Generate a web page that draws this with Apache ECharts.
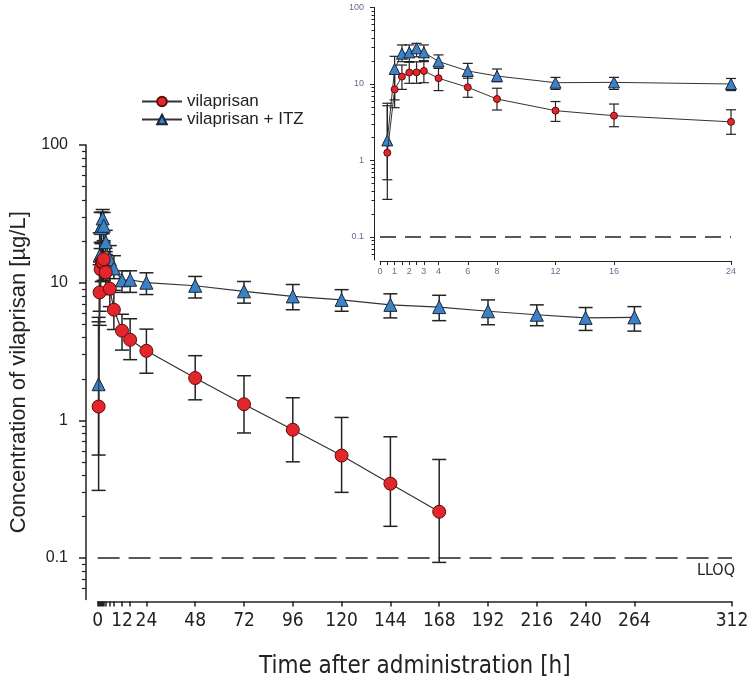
<!DOCTYPE html>
<html><head><meta charset="utf-8">
<script src="https://cdn.jsdelivr.net/npm/echarts@6/dist/echarts.min.js"></script>
<style>html,body{margin:0;padding:0;background:#fff}#c{width:750px;height:676px}</style>
</head><body><div id="c"></div>
<script>
// ---- data ----
const timesVila = [0.5,1,1.5,2,2.5,3,4,6,8,12,16,24,48,72,96,120,144,168];
const vilaMean  = [1.26,8.5,12.5,14.1,14.2,14.8,11.9,9.05,6.36,4.48,3.85,3.2,2.03,1.31,0.855,0.555,0.347,0.217];
const vilaLow   = [0.31,4.9,8.5,10.2,10.2,10.4,8.2,6.7,4.57,3.24,2.76,2.2,1.41,0.81,0.50,0.30,0.17,0.093];
const vilaHigh  = [5.2,13.5,17.7,19.2,19.5,20.2,16.0,12.7,8.8,5.9,5.47,4.6,2.95,2.11,1.46,1.05,0.76,0.52];

const timesItz = [0.5,1,1.5,2,2.5,3,4,6,8,12,16,24,48,72,96,120,144,168,192,216,240,264];
const itzMean  = [1.83,15.7,24.9,25.9,29.3,25.9,19.7,14.8,12.7,10.4,10.5,10.0,9.5,8.65,7.95,7.5,6.9,6.65,6.2,5.85,5.55,5.6];
const itzLow   = [0.56,6.2,19.6,19.6,22.7,19.6,16.8,11.9,10.7,8.5,8.5,8.2,7.74,7.1,6.36,6.2,5.55,5.3,4.95,4.87,4.5,4.45];
const itzHigh  = [5.6,23,32.4,32.4,34,32.4,24,18.6,15.7,12.2,12.2,11.8,11.1,10.2,9.7,8.9,8.3,8.1,7.5,6.9,6.6,6.7];

const mainXLabels = [0,12,24,48,72,96,120,144,168,192,216,240,264,312];
const mainXTicks  = [0,0.5,1,1.5,2,2.5,3,4,6,8,12,16,24,48,72,96,120,144,168,192,216,240,264,312];
const insetXLabels = [0,1,2,3,4,6,8,12,16,24];
const insetXTicks  = [0,0.5,1,1.5,2,2.5,3,4,6,8,12,16,24];
const yMajor = [0.1,1,10,100];
const yMinor = [0.06,0.07,0.08,0.09,0.2,0.3,0.4,0.5,0.6,0.7,0.8,0.9,2,3,4,5,6,7,8,9,20,30,40,50,60,70,80,90];
const lloq = 0.1;
const insetMaxT = 24;

// ---- styles ----
const RED = '#e3262b', RED_B = '#5e0b0b';
const BLUE = '#3c82c4', BLUE_B = '#15263d';
const INK = '#222';
const INSET_TXT = '#6a6a98';
const NARROW = '"Liberation Sans Narrow","Arial Narrow","DejaVu Sans Condensed",sans-serif';
const SANS = '"Liberation Sans",Arial,sans-serif';

function zip(ts, vs, maxT) {
  const out = [];
  ts.forEach((t, i) => { if (maxT === undefined || t <= maxT) out.push([t, vs[i]]); });
  return out;
}
function zip3(ts, lo, hi, maxT) {
  const out = [];
  ts.forEach((t, i) => { if (maxT === undefined || t <= maxT) out.push([t, lo[i], hi[i]]); });
  return out;
}
function errSeries(xi, yi, data, half, lw) {
  return {
    type: 'custom', xAxisIndex: xi, yAxisIndex: yi, silent: true, z: 1,
    data: data, encode: {x: 0, y: [1, 2]},
    renderItem(params, api) {
      const x = api.value(0);
      const lo = api.coord([x, api.value(1)]);
      const hi = api.coord([x, api.value(2)]);
      const st = {stroke: INK, lineWidth: lw};
      return {type: 'group', children: [
        {type: 'line', shape: {x1: lo[0], y1: lo[1], x2: hi[0], y2: hi[1]}, style: st},
        {type: 'line', shape: {x1: lo[0] - half, y1: lo[1], x2: lo[0] + half, y2: lo[1]}, style: st},
        {type: 'line', shape: {x1: hi[0] - half, y1: hi[1], x2: hi[0] + half, y2: hi[1]}, style: st}
      ]};
    }
  };
}
function lloqLine(dash, w) {
  return {symbol: 'none', silent: true, animation: false,
    data: [{yAxis: lloq}], label: {show: false},
    lineStyle: {type: dash, color: INK, width: w}, emphasis: {disabled: true}};
}

const chart = echarts.init(document.getElementById('c'), null, {renderer: 'canvas'});
const option = {
  animation: false,
  backgroundColor: '#fff',
  grid: [
    {left: 97.6, right: 18, top: 145, bottom: 76.5, outerBoundsMode: 'none'},
    {left: 380, right: 19, top: 7.5, bottom: 416, outerBoundsMode: 'none'}
  ],
  legend: {
    left: 136, top: 88, orient: 'vertical', itemWidth: 40, itemHeight: 12, itemGap: 1,
    data: ['vilaprisan', 'vilaprisan + ITZ'],
    textStyle: {fontFamily: SANS, fontSize: 17, color: INK}
  },
  xAxis: [
    {type: 'value', gridIndex: 0, position: 'bottom', min: 0, max: 312, offset: 2,
     name: 'Time after administration [h]', nameLocation: 'middle', nameGap: 53,
     nameTextStyle: {fontFamily: NARROW, fontSize: 24, color: INK},
     axisLine: {onZero: false, lineStyle: {color: INK, width: 1.5}},
     axisTick: {customValues: mainXTicks, length: 5, lineStyle: {color: INK, width: 1.5}},
     axisLabel: {customValues: mainXLabels, margin: 10, fontFamily: NARROW, fontSize: 19, color: INK},
     splitLine: {show: false}},
    {type: 'value', gridIndex: 1, position: 'bottom', min: 0, max: insetMaxT, offset: 1,
     axisLine: {onZero: false, lineStyle: {color: INK, width: 1}},
     axisTick: {customValues: insetXTicks, length: 4, lineStyle: {color: INK, width: 1}},
     axisLabel: {customValues: insetXLabels, margin: 6, fontFamily: SANS, fontSize: 9, color: INSET_TXT},
     splitLine: {show: false}}
  ],
  yAxis: [
    {type: 'log', logBase: 10, gridIndex: 0, position: 'left', min: 0.05, max: 100, offset: 11.6,
     name: 'Concentration of vilaprisan [µg/L]', nameLocation: 'middle', nameGap: 54,
     nameTextStyle: {fontFamily: SANS, fontSize: 22, color: INK},
     axisLine: {show: true, onZero: false, lineStyle: {color: INK, width: 1.5}},
     axisTick: {customValues: yMajor, length: 7, lineStyle: {color: INK, width: 1.5}},
     axisLabel: {customValues: yMajor, margin: 18, fontFamily: SANS, fontSize: 16, color: INK},
     splitLine: {show: false}},
    {type: 'log', logBase: 10, gridIndex: 0, position: 'left', min: 0.05, max: 100, offset: 11.6,
     axisLine: {show: false, onZero: false},
     axisTick: {customValues: yMinor, length: 4, lineStyle: {color: INK, width: 1.2}},
     axisLabel: {show: false}, splitLine: {show: false}},
    {type: 'log', logBase: 10, gridIndex: 1, position: 'left', min: 0.05, max: 100, offset: 6,
     axisLine: {show: true, onZero: false, lineStyle: {color: INK, width: 1}},
     axisTick: {customValues: yMajor, length: 4, lineStyle: {color: INK, width: 1}},
     axisLabel: {customValues: yMajor, margin: 10, fontFamily: SANS, fontSize: 9, color: INSET_TXT},
     splitLine: {show: false}},
    {type: 'log', logBase: 10, gridIndex: 1, position: 'left', min: 0.05, max: 100, offset: 6,
     axisLine: {show: false, onZero: false},
     axisTick: {customValues: yMinor, length: 2.5, lineStyle: {color: INK, width: 1}},
     axisLabel: {show: false}, splitLine: {show: false}}
  ],
  series: [
    // main panel
    errSeries(0, 0, zip3(timesItz, itzLow, itzHigh), 7, 1.5),
    errSeries(0, 0, zip3(timesVila, vilaLow, vilaHigh), 7, 1.5),
    {name: 'vilaprisan + ITZ', type: 'line', xAxisIndex: 0, yAxisIndex: 0, z: 3,
     data: zip(timesItz, itzMean), symbol: 'triangle', symbolSize: 13,
     lineStyle: {color: '#333', width: 1.2},
     itemStyle: {color: BLUE, borderColor: BLUE_B, borderWidth: 1}},
    {name: 'vilaprisan', type: 'line', xAxisIndex: 0, yAxisIndex: 0, z: 4,
     data: zip(timesVila, vilaMean), symbol: 'circle', symbolSize: 13,
     lineStyle: {color: '#333', width: 1.2},
     itemStyle: {color: RED, borderColor: RED_B, borderWidth: 1},
     markLine: lloqLine([22, 9], 1.5)},
    // inset panel
    errSeries(1, 2, zip3(timesItz, itzLow, itzHigh, insetMaxT), 5, 1.2),
    errSeries(1, 2, zip3(timesVila, vilaLow, vilaHigh, insetMaxT), 5, 1.2),
    {name: 'vilaprisan + ITZ', type: 'line', xAxisIndex: 1, yAxisIndex: 2, z: 3,
     data: zip(timesItz, itzMean, insetMaxT), symbol: 'triangle', symbolSize: 11,
     lineStyle: {color: '#333', width: 1},
     itemStyle: {color: BLUE, borderColor: BLUE_B, borderWidth: 1}},
    {name: 'vilaprisan', type: 'line', xAxisIndex: 1, yAxisIndex: 2, z: 4,
     data: zip(timesVila, vilaMean, insetMaxT), symbol: 'circle', symbolSize: 7,
     lineStyle: {color: '#333', width: 1},
     itemStyle: {color: RED, borderColor: RED_B, borderWidth: 1},
     markLine: lloqLine([16, 9], 1.5)}
  ],
  graphic: [
    {type: 'text', right: 15, top: 563,
     style: {text: 'LLOQ', fontFamily: NARROW, fontSize: 16, fill: INK}}
  ]
};
chart.setOption(option);
</script>
</body></html>
